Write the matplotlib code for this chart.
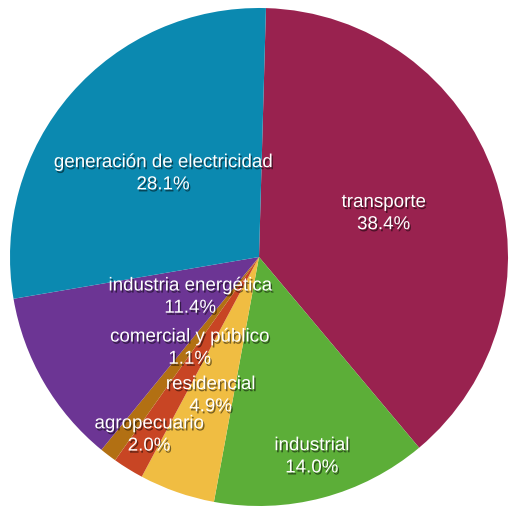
import numpy as np
import matplotlib
matplotlib.use('Agg')
import matplotlib.pyplot as plt
import matplotlib.patheffects as pe

# Sectors and their shares (%)
sectores = ['transporte', 'industrial', 'residencial', 'agropecuario',
            'comercial y público', 'industria energética',
            'generación de electricidad']
porcentajes = [38.4, 14.0, 4.9, 2.0, 1.1, 11.4, 28.1]
colores = ['#99224f', '#5cae38', '#f0bd42', '#c84524', '#b27013',
           '#6c3594', '#0b89b0']

# radial position of each label (fraction of radius)
radio_etiqueta = [0.53, 0.83, 0.59, 0.84, 0.46, 0.32, 0.51]

fig = plt.figure(figsize=(5.11, 5.08), dpi=100)
R = 249
cx, cy = 259, 508 - 257
ax = fig.add_axes([(cx - R) / 511, (cy - R) / 508, 2 * R / 511, 2 * R / 508])

wedges, _ = ax.pie(porcentajes, colors=colores, startangle=88.4,
                   counterclock=False, radius=1.0,
                   wedgeprops=dict(linewidth=0, antialiased=True))
ax.set_xlim(-1, 1)
ax.set_ylim(-1, 1)
ax.set_aspect('equal')
ax.axis('off')

sombra = [pe.SimplePatchShadow(offset=(1, -1.5), shadow_rgbFace='black', alpha=0.5),
          pe.Normal()]

for w, nombre, p, r in zip(wedges, sectores, porcentajes, radio_etiqueta):
    ang = np.deg2rad((w.theta1 + w.theta2) / 2)
    x, y = r * np.cos(ang), r * np.sin(ang)
    ax.text(x, y, f'{nombre}\n{p:.1f}%', ha='center', va='center',
            color='white', fontsize=13.5, family='Liberation Sans',
            linespacing=1.4, path_effects=sombra)

fig.savefig('out.png', dpi=100)
